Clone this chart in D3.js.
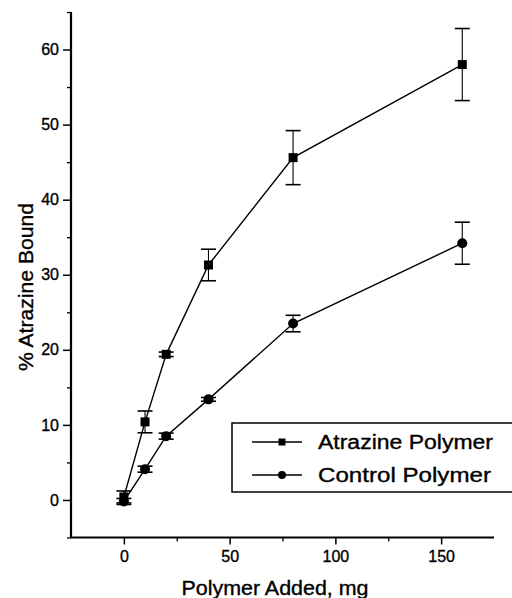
<!DOCTYPE html>
<html>
<head>
<meta charset="utf-8">
<script src="https://cdn.jsdelivr.net/npm/d3@7"></script>
<style>
  body { margin: 0; background: #fff; }
  svg { display: block; font-family: "Liberation Sans", Arial, sans-serif; }
  svg text { stroke: #000; stroke-width: 0.35px; fill: #000; }
</style>
</head>
<body>
<script>
// values
const polymerMg = [0, 10, 20, 40, 80, 160];
const atrazineBound = [0.4, 10.4, 19.4, 31.3, 45.6, 58.0];
const atrazineErr = [0.8, 1.45, 0.3, 2.1, 3.6, 4.8];
const controlBound = [-0.2, 4.1, 8.5, 13.4, 23.5, 34.2];
const controlErr = [0.4, 0.4, 0.4, 0.25, 1.1, 2.8];
const xTicks = [0, 50, 100, 150];
const yTicks = [0, 10, 20, 30, 40, 50, 60];
const seriesNames = ['Atrazine Polymer', 'Control Polymer'];

const width = 512, height = 598;

const svg = d3.select('body').append('svg')
  .attr('width', width)
  .attr('height', height);

const x = d3.scaleLinear().domain([-25, 175]).range([71, 494]);
const y = d3.scaleLinear().domain([-5, 65]).range([537.5, 12]);

// y axis
const yAxis = svg.append('g')
  .attr('transform', `translate(${x(-25)},0)`)
  .call(d3.axisLeft(y).tickValues(yTicks).tickSize(8).tickPadding(4).tickFormat(d3.format('d')));
yAxis.call(g => g.select('.domain').remove());
yAxis.selectAll('.tick line').attr('stroke', '#000').attr('stroke-width', 1.5);
yAxis.selectAll('.tick text').attr('font-size', 16)
  .attr('font-family', '"Liberation Sans", Arial, sans-serif');
svg.append('g')
  .attr('transform', `translate(${x(-25)},0)`)
  .call(d3.axisLeft(y).tickValues(d3.range(-5, 70, 10)).tickSize(4).tickFormat(''))
  .call(g => g.select('.domain').remove())
  .selectAll('.tick line').attr('stroke', '#000').attr('stroke-width', 1.3);
svg.append('line')
  .attr('x1', x(-25)).attr('x2', x(-25))
  .attr('y1', y(65)).attr('y2', y(-5))
  .attr('stroke', '#000').attr('stroke-width', 2.2);

// x axis
const xAxis = svg.append('g')
  .attr('transform', `translate(0,${y(-5)})`)
  .call(d3.axisBottom(x).tickValues(xTicks).tickSize(7).tickPadding(6).tickFormat(d3.format('d')));
xAxis.call(g => g.select('.domain').remove());
xAxis.selectAll('.tick line').attr('stroke', '#000').attr('stroke-width', 1.5);
xAxis.selectAll('.tick text').attr('font-size', 16)
  .attr('font-family', '"Liberation Sans", Arial, sans-serif');
svg.append('g')
  .attr('transform', `translate(0,${y(-5)})`)
  .call(d3.axisBottom(x).tickValues([25, 75, 125]).tickSize(4).tickFormat(''))
  .call(g => g.select('.domain').remove())
  .selectAll('.tick line').attr('stroke', '#000').attr('stroke-width', 1.3);
svg.append('line')
  .attr('x1', x(-25)).attr('x2', x(175))
  .attr('y1', y(-5)).attr('y2', y(-5))
  .attr('stroke', '#000').attr('stroke-width', 2.2);

// axis titles
svg.append('text')
  .attr('x', 275).attr('y', 595)
  .attr('text-anchor', 'middle')
  .attr('font-size', 20)
  .attr('textLength', 187).attr('lengthAdjust', 'spacingAndGlyphs')
  .text('Polymer Added, mg');

svg.append('text')
  .attr('transform', 'translate(33,287) rotate(-90)')
  .attr('text-anchor', 'middle')
  .attr('font-size', 20)
  .attr('textLength', 168).attr('lengthAdjust', 'spacingAndGlyphs')
  .text('% Atrazine Bound');

// series
const series = [
  { name: seriesNames[0], vals: atrazineBound, err: atrazineErr, shape: 'square' },
  { name: seriesNames[1], vals: controlBound, err: controlErr, shape: 'circle' }
];

const line = d3.line()
  .x((d, i) => x(polymerMg[i]))
  .y(d => y(d));

function marker(g, shape, cx, cy, s) {
  if (shape === 'square') {
    g.append('rect')
      .attr('x', cx - s / 2).attr('y', cy - s / 2)
      .attr('width', s).attr('height', s)
      .attr('fill', '#000');
  } else {
    g.append('circle')
      .attr('cx', cx).attr('cy', cy).attr('r', s / 2 + 0.5)
      .attr('fill', '#000');
  }
}

series.forEach(s => {
  const g = svg.append('g');
  g.append('path')
    .datum(s.vals)
    .attr('d', line)
    .attr('fill', 'none')
    .attr('stroke', '#000')
    .attr('stroke-width', 1.4);

  s.vals.forEach((v, i) => {
    const cx = x(polymerMg[i]);
    const top = y(v + s.err[i]), bot = y(v - s.err[i]);
    g.append('line')
      .attr('x1', cx).attr('x2', cx).attr('y1', top).attr('y2', bot)
      .attr('stroke', '#000').attr('stroke-width', 1.1);
    [top, bot].forEach(yy => {
      g.append('line')
        .attr('x1', cx - 7.5).attr('x2', cx + 7.5).attr('y1', yy).attr('y2', yy)
        .attr('stroke', '#000').attr('stroke-width', 1.6);
    });
    marker(g, s.shape, cx, y(v), 9);
  });
});

// legend
const legend = svg.append('g');
legend.append('rect')
  .attr('x', 232).attr('y', 423)
  .attr('width', 300).attr('height', 69)
  .attr('fill', '#fff')
  .attr('stroke', '#000').attr('stroke-width', 1.5);

const rowY = [442, 475];
const textLen = [175, 173];
series.forEach((s, i) => {
  legend.append('line')
    .attr('x1', 252).attr('x2', 302)
    .attr('y1', rowY[i]).attr('y2', rowY[i])
    .attr('stroke', '#000').attr('stroke-width', 1.3);
  marker(legend, s.shape, 282, rowY[i], 7);
  legend.append('text')
    .attr('x', 318).attr('y', rowY[i] + 7)
    .attr('font-size', 20)
    .attr('textLength', textLen[i]).attr('lengthAdjust', 'spacingAndGlyphs')
    .text(s.name);
});
</script>
</body>
</html>
